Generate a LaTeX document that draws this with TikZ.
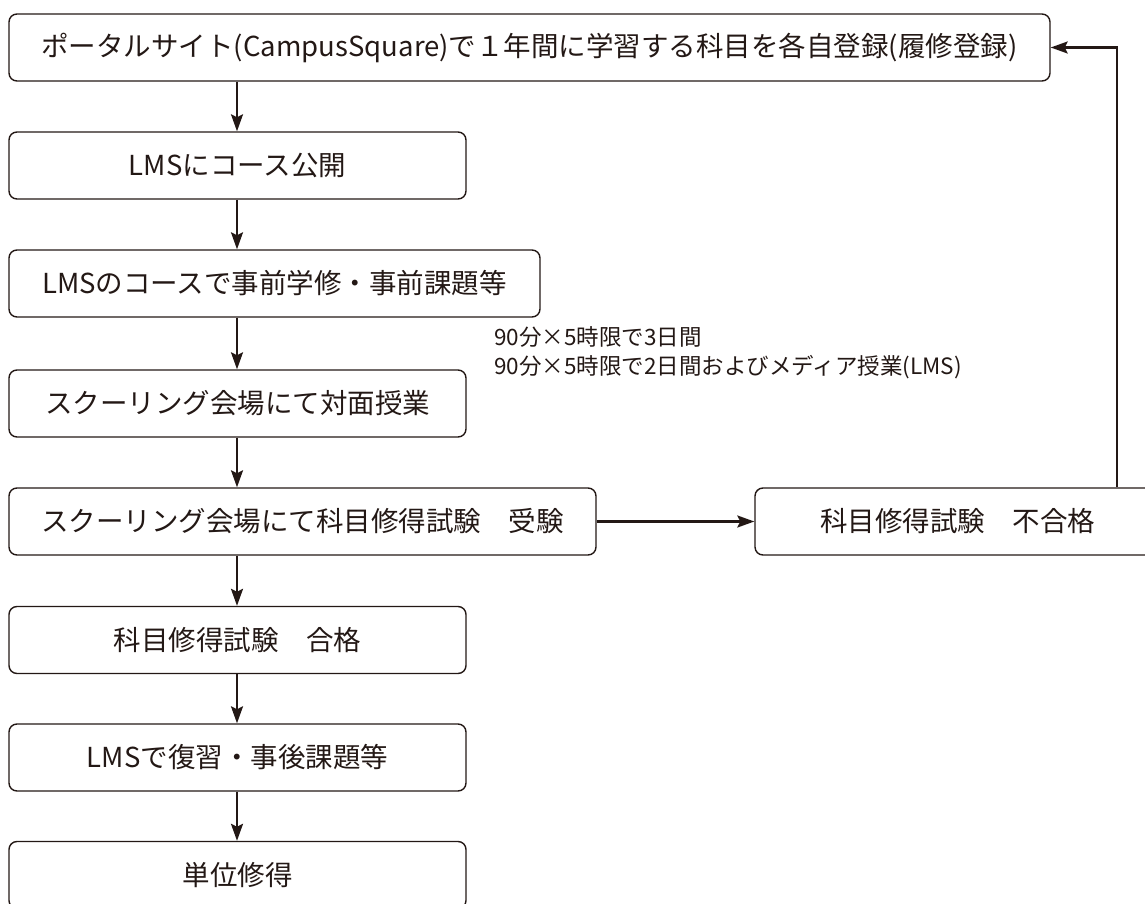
\documentclass[tikz,border=0pt]{standalone}
\usepackage{fontspec}
\setmainfont{Noto Sans CJK JP}
\usetikzlibrary{arrows.meta}
\definecolor{ink}{RGB}{35,24,21}
\tikzset{
 box/.style={draw=ink, line width=1.4pt, rounded corners=8pt, minimum height=67pt,
  inner sep=0pt, text=ink, font=\fontsize{27.5}{32}\selectfont},
 flow/.style={draw=ink, line width=2.3pt, -{Stealth[length=17pt,width=12pt,inset=3pt]}}
}
\begin{document}
\begin{tikzpicture}[x=1pt,y=-1pt]
 \useasboundingbox (0,0) rectangle (1145,904);
 \clip (0,0) rectangle (1145,904);

 %lines of the arrows
 \coordinate (ax) at (237,0); %main column
 \coordinate (fb) at (1117,0); %way back to the top

 %steps of the course
 \node [box, minimum width=1041pt] (regist) at (529.5,47.5) {ポータルサイト(CampusSquare)で１年間に学習する科目を各自登録(履修登録)};
 \node [box, minimum width=457pt] (open) at (237.5,165.5) {LMSにコース公開};
 \node [box, minimum width=531pt] (pre) at (274.5,283.5) {LMSのコースで事前学修・事前課題等};
 \node [box, minimum width=457pt] (class) at (237.5,403.5) {スクーリング会場にて対面授業};
 \node [box, minimum width=587pt] (exam) at (302.5,521.5) {スクーリング会場にて科目修得試験　受験};
 \node [box, minimum width=405pt] (fail) at (957.5,521.5) {科目修得試験　不合格};
 \node [box, minimum width=457pt] (pass) at (237.5,640) {科目修得試験　合格};
 \node [box, minimum width=457pt] (post) at (237.5,757.5) {LMSで復習・事後課題等};
 \node [box, minimum width=457pt] (credit) at (237.5,875) {単位修得};

 %note on the class days
 \node [anchor=north west, align=left, inner sep=0pt, text=ink,
  font=\fontsize{22.5}{29}\selectfont] (note) at (494,326)
  {90分×5時限で3日間\\90分×5時限で2日間およびメディア授業(LMS)};

 %draw the flow
 \draw [flow] (regist.south -| ax) -- (open.north -| ax);
 \draw [flow] (open.south -| ax) -- (pre.north -| ax);
 \draw [flow] (pre.south -| ax) -- (class.north -| ax);
 \draw [flow] (class.south -| ax) -- (exam.north -| ax);
 \draw [flow] (exam.south -| ax) -- (pass.north -| ax);
 \draw [flow] (pass.south -| ax) -- (post.north -| ax);
 \draw [flow] (post.south -| ax) -- (credit.north -| ax);
 \draw [flow] (exam.east) -- (fail.west);
 \draw [flow] (fail.north -| fb) |- (regist.east);
\end{tikzpicture}
\end{document}
